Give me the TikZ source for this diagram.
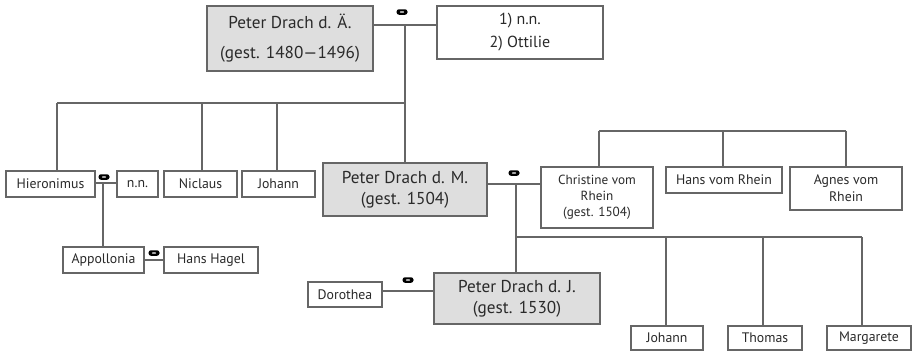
\documentclass[tikz,border=0pt]{standalone}
\usepackage{fontspec}
\setmainfont{PT Sans}
\definecolor{ln}{HTML}{666666}
\definecolor{bx}{HTML}{DEDEDE}
\definecolor{tx}{HTML}{2A2A2A}
\begin{document}
\begin{tikzpicture}[x=1pt,y=-1pt,
  person/.style={draw=ln,line width=1.1pt,inner sep=0pt,align=center,text=tx,font=\fontsize{13.8}{15}\selectfont},
  big/.style={person,fill=bx,font=\fontsize{17.2}{21}\selectfont},
  conn/.style={draw=ln,line width=1.3pt},
  wed/.style={fill=black,rounded corners=2.5pt,minimum width=11pt,minimum height=5.5pt,inner sep=0pt,
    path picture={\fill[white] (path picture bounding box.center) ellipse (2.2pt and 0.7pt);}}]
\useasboundingbox (0,0) rectangle (913,351);
\fill[white] (0,0) rectangle (913,351);
% persons
\node[big,font=\fontsize{17.2}{30}\selectfont,minimum width=166,minimum height=65] (A) at (290,38.5) {Peter Drach d. Ä.\\(gest. 1480—1496)};
\node[person,font=\fontsize{16}{23}\selectfont,minimum width=166,minimum height=53] (B) at (520,32.5) {1) n.n.\\2) Ottilie};
\node[person,minimum width=89,minimum height=26] (Hier) at (50.5,184) {Hieronimus};
\node[person,minimum width=41,minimum height=26] (nn) at (137.5,184) {n.n.};
\node[person,minimum width=73,minimum height=26] (Nic) at (200.5,184) {Niclaus};
\node[person,minimum width=73,minimum height=26] (Joh) at (278.5,184) {Johann};
\node[big,minimum width=164,minimum height=53] (M) at (405,189.5) {Peter Drach d. M.\\(gest. 1504)};
\node[person,minimum width=112,minimum height=61,font=\fontsize{13.2}{16}\selectfont] (Chr) at (597,197.5) {Christine vom\\Rhein\\(gest. 1504)};
\node[person,minimum width=116,minimum height=26] (Hans) at (724,180) {Hans vom Rhein};
\node[person,minimum width=112,minimum height=43,font=\fontsize{13.8}{17}\selectfont] (Agn) at (846,188.5) {Agnes vom\\Rhein};
\node[person,minimum width=81,minimum height=26] (App) at (103.5,260) {Appollonia};
\node[person,minimum width=94,minimum height=26] (Hag) at (211,260) {Hans Hagel};
\node[person,minimum width=74,minimum height=25] (Dor) at (345,294.5) {Dorothea};
\node[big,minimum width=166,minimum height=51] (J) at (517,298.5) {Peter Drach d. J.\\(gest. 1530)};
\node[person,minimum width=72,minimum height=24] (Joh2) at (667,338) {Johann};
\node[person,minimum width=74,minimum height=24] (Tho) at (765,338) {Thomas};
\node[person,minimum width=84,minimum height=24] (Mar) at (869,338) {Margarete};
% marriage symbols
\node[wed] (w1) at (402,12) {};
\node[wed] (w2) at (104,177) {};
\node[wed] (w3) at (154,253) {};
\node[wed] (w4) at (514,173) {};
\node[wed] (w5) at (408,280) {};
% helper coordinates
\coordinate (m1) at (405,25);
\coordinate (s1) at (405,103);
\coordinate (h1) at (57,103);
\coordinate (s2) at (202,103);
\coordinate (s3) at (277,103);
\coordinate (m2) at (103,183);
\coordinate (m4) at (516,184);
\coordinate (m5) at (408,291);
\coordinate (c1) at (516,237);
\coordinate (r1) at (599,131);
\coordinate (r2) at (723,131);
\coordinate (r3) at (846,131);
\coordinate (k1) at (666,237);
\coordinate (k2) at (763,237);
\coordinate (k3) at (862,237);
% connectors
\draw[conn] (m1 -| A.east) -- (m1 -| B.west);
\draw[conn] (m1) -- (M.north);
\draw[conn] (h1) -- (s1);
\draw[conn] (h1) -- (h1 |- Hier.north);
\draw[conn] (s2) -- (s2 |- Nic.north);
\draw[conn] (s3) -- (s3 |- Joh.north);
\draw[conn] (m2 -| Hier.east) -- (m2 -| nn.west);
\draw[conn] (m2) -- (m2 |- App.north);
\draw[conn] (App.east) -- (Hag.west);
\draw[conn] (m4 -| M.east) -- (m4 -| Chr.west);
\draw[conn] (m4) -- (m4 |- J.north);
\draw[conn] (r1) -- (r3);
\draw[conn] (r1) -- (r1 |- Chr.north);
\draw[conn] (r2) -- (r2 |- Hans.north);
\draw[conn] (r3) -- (Agn.north);
\draw[conn] (m5 -| Dor.east) -- (m5 -| J.west);
\draw[conn] (c1) -- (k3);
\draw[conn] (k1) -- (k1 |- Joh2.north);
\draw[conn] (k2) -- (k2 |- Tho.north);
\draw[conn] (k3) -- (k3 |- Mar.north);
\end{tikzpicture}
\end{document}
